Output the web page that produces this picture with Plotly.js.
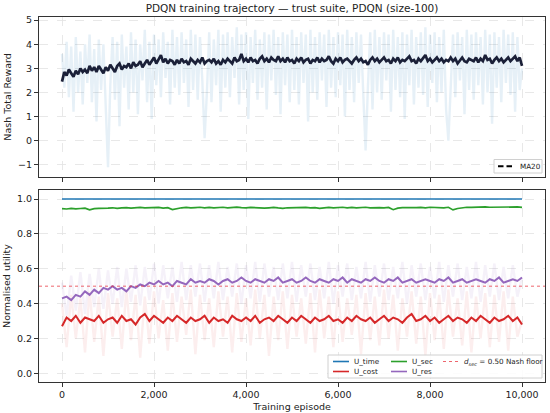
<!DOCTYPE html>
<html>
<head>
<meta charset="utf-8">
<script src="https://cdn.plot.ly/plotly-3.0.1.min.js"></script>
<style>html,body{margin:0;padding:0;background:#fff;}#chart{width:550px;height:413px;}</style>
</head>
<body>
<div id="chart"></div>
<script>
// ---------- data ----------
const STEP_FINE = 50;     // episodes between samples of fine series
const STEP_COARSE = 100;  // episodes between samples of coarse series
const LAST_EPISODE = 10000;
const nashFloor = 0.50;
const xTickVals = [0, 2000, 4000, 6000, 8000, 10000];
const rewardTickVals = [-1, 0, 1, 2, 3, 4, 5];
const utilTickVals = [0, 0.2, 0.4, 0.6, 0.8, 1.0];
const legendTop = ['MA20'];
const legendBottom = ['U_time', 'U_cost', 'U_sec', 'U_res', '<i>d</i><sub><i>sec</i></sub> = 0.50 Nash floor'];

const rewardRaw = [
3.6,2.2,4.1,1.8,3.9,1.2,4.3,2.0,3.7,1.5,
4.0,2.4,4.4,1.6,3.8,0.8,4.2,2.1,4.0,1.4,
-1.1,2.3,4.3,1.7,4.1,0.6,4.4,2.2,3.9,1.3,
4.5,2.0,4.2,1.1,4.0,2.5,4.6,1.6,4.1,0.9,
4.4,2.3,4.2,1.8,4.5,2.6,4.1,1.5,4.6,2.2,
4.3,1.9,4.5,2.4,4.2,1.4,4.6,2.1,4.4,1.7,
4.3,2.5,0.1,2.0,4.5,1.6,4.2,2.3,4.6,1.2,
4.4,2.2,4.5,1.8,4.3,2.6,4.7,1.5,4.4,2.1,
4.5,0.9,4.3,2.4,4.6,1.7,4.2,2.2,4.5,1.3,
4.4,2.5,4.6,1.9,4.3,1.1,4.5,2.3,4.4,1.6,
4.6,2.1,4.3,1.5,4.5,2.4,4.4,0.8,4.6,2.0,
4.3,1.7,4.5,2.5,4.4,1.4,4.6,2.2,4.3,1.8,
4.5,2.3,4.4,1.0,4.6,2.1,4.3,1.6,4.5,2.4,
4.4,1.9,-0.4,2.2,4.5,1.3,4.6,2.0,4.3,1.7,
4.5,2.5,4.4,1.2,4.6,2.1,4.3,1.8,4.5,0.9,
4.4,2.3,4.6,1.5,4.3,2.2,4.5,1.9,4.7,1.4,
4.4,2.4,4.5,1.6,4.3,2.0,4.6,1.3,0.0,2.2,
4.4,1.8,4.5,2.5,4.3,1.1,4.6,2.1,4.4,1.7,
4.5,2.3,4.3,1.5,4.6,2.0,4.4,0.7,4.5,2.2,
4.3,1.6,4.6,2.4,4.4,1.9,4.5,1.2,4.3,2.1,3.0];

const rewardMA20 = [
2.45,2.85,2.7,2.95,2.8,2.65,2.9,2.75,3.0,2.85,
2.95,2.8,3.1,2.9,3.05,2.85,3.1,2.95,2.8,3.05,
2.9,3.15,3.0,2.85,3.1,3.2,2.95,3.1,3.05,3.2,
3.0,3.25,3.1,3.15,3.3,3.05,3.2,3.35,3.15,3.3,
3.45,3.2,3.35,3.55,3.25,3.4,3.2,3.35,3.3,3.15,
3.35,3.2,3.4,3.25,3.3,3.15,3.4,3.3,3.2,3.35,
3.25,3.45,3.2,3.3,3.35,3.25,3.4,3.2,3.3,3.15,
3.35,3.25,3.4,3.3,3.2,3.45,3.3,3.35,3.6,3.3,
3.4,3.25,3.45,3.3,3.35,3.2,3.4,3.5,3.3,3.4,
3.25,3.45,3.35,3.3,3.5,3.3,3.4,3.25,3.45,3.3,
3.35,3.2,3.4,3.3,3.45,3.25,3.35,3.4,3.2,3.35,
3.3,3.45,3.25,3.4,3.3,3.35,3.5,3.3,3.2,3.4,
3.3,3.45,3.25,3.35,3.4,3.3,3.2,3.35,3.45,3.3,
3.4,3.25,3.3,3.15,3.35,3.45,3.3,3.4,3.25,3.35,
3.45,3.3,3.35,3.2,3.4,3.3,3.45,3.25,3.35,3.3,
3.4,3.5,3.3,3.35,3.2,3.4,3.3,3.45,3.55,3.3,
3.4,3.25,3.35,3.45,3.3,3.4,3.25,3.35,3.3,3.45,
3.3,3.4,3.2,3.35,3.45,3.3,3.25,3.4,3.35,3.3,
3.45,3.25,3.4,3.3,3.55,3.35,3.4,3.2,3.35,3.45,
3.3,3.4,3.25,3.35,3.45,3.3,3.4,3.5,3.3,3.45,3.1];

const uTimeMA = [1.0, 1.0];

const uSecMA = [
0.945,0.943,0.947,0.944,0.946,0.948,0.938,0.945,0.947,0.946,
0.948,0.950,0.947,0.949,0.951,0.948,0.950,0.952,0.949,0.951,
0.950,0.952,0.948,0.951,0.940,0.947,0.950,0.952,0.949,0.951,
0.953,0.950,0.952,0.949,0.951,0.953,0.950,0.952,0.954,0.951,
0.949,0.952,0.950,0.951,0.948,0.950,0.952,0.949,0.947,0.950,
0.951,0.948,0.950,0.952,0.949,0.951,0.947,0.950,0.952,0.949,
0.951,0.953,0.950,0.952,0.949,0.951,0.953,0.950,0.952,0.951,
0.950,0.952,0.939,0.948,0.951,0.950,0.953,0.951,0.952,0.950,
0.953,0.951,0.952,0.950,0.953,0.938,0.946,0.951,0.953,0.952,
0.954,0.952,0.955,0.953,0.954,0.952,0.955,0.953,0.954,0.955,0.952];

const uCostMA = [
0.27,0.32,0.30,0.33,0.29,0.32,0.31,0.30,0.33,0.29,
0.31,0.32,0.29,0.33,0.30,0.31,0.28,0.32,0.34,0.30,
0.33,0.31,0.29,0.32,0.30,0.33,0.31,0.29,0.32,0.30,
0.31,0.33,0.29,0.32,0.30,0.31,0.29,0.33,0.31,0.30,
0.32,0.30,0.33,0.29,0.31,0.32,0.30,0.33,0.31,0.29,
0.32,0.30,0.33,0.31,0.29,0.32,0.30,0.31,0.33,0.30,
0.31,0.29,0.32,0.30,0.33,0.31,0.30,0.32,0.29,0.31,
0.33,0.30,0.32,0.31,0.29,0.32,0.34,0.30,0.31,0.33,
0.30,0.32,0.29,0.31,0.33,0.30,0.32,0.31,0.29,0.32,
0.30,0.33,0.31,0.29,0.32,0.30,0.31,0.33,0.30,0.32,0.28];

const uResMA = [
0.43,0.44,0.42,0.45,0.44,0.47,0.45,0.48,0.46,0.49,
0.48,0.50,0.48,0.49,0.47,0.50,0.49,0.51,0.50,0.52,
0.51,0.53,0.51,0.52,0.50,0.53,0.52,0.51,0.54,0.52,
0.53,0.52,0.54,0.53,0.51,0.53,0.54,0.52,0.53,0.55,
0.53,0.52,0.54,0.53,0.52,0.54,0.53,0.55,0.52,0.53,
0.54,0.52,0.53,0.55,0.53,0.52,0.54,0.53,0.52,0.54,
0.53,0.55,0.52,0.54,0.53,0.52,0.54,0.53,0.55,0.53,
0.52,0.54,0.53,0.55,0.52,0.53,0.54,0.52,0.53,0.54,
0.53,0.52,0.54,0.53,0.55,0.52,0.53,0.54,0.52,0.53,
0.54,0.53,0.52,0.54,0.53,0.55,0.52,0.53,0.54,0.53,0.55];

const uCostRaw = [
0.40,0.15,0.45,0.20,0.43,0.12,0.47,0.18,0.44,0.10,
0.46,0.21,0.43,0.14,0.48,0.19,0.45,0.09,0.44,0.17,
0.47,0.20,0.42,0.13,0.46,0.18,0.44,0.22,0.48,0.11,
0.45,0.19,0.43,0.15,0.47,0.21,0.44,0.12,0.46,0.18,
0.43,0.16,0.48,0.20,0.45,0.10,0.44,0.19,0.47,0.14,
0.45,0.21,0.43,0.17,0.46,0.12,0.48,0.20,0.44,0.15,
0.47,0.18,0.43,0.22,0.45,0.11,0.46,0.19,0.44,0.16,
0.48,0.20,0.45,0.13,0.43,0.21,0.47,0.17,0.44,0.10,
0.46,0.19,0.45,0.14,0.48,0.21,0.43,0.16,0.47,0.12,
0.44,0.20,0.46,0.15,0.45,0.18,0.47,0.13,0.44,0.21,0.30];

const uResRaw = [
0.52,0.33,0.56,0.36,0.58,0.34,0.57,0.38,0.60,0.37,
0.59,0.40,0.61,0.38,0.60,0.41,0.62,0.39,0.61,0.42,
0.63,0.40,0.62,0.43,0.61,0.41,0.64,0.42,0.62,0.44,
0.63,0.41,0.62,0.43,0.64,0.42,0.61,0.44,0.63,0.40,
0.62,0.43,0.64,0.41,0.63,0.44,0.61,0.42,0.63,0.43,
0.64,0.41,0.62,0.44,0.63,0.42,0.61,0.43,0.64,0.40,
0.62,0.44,0.63,0.42,0.61,0.43,0.64,0.41,0.62,0.44,
0.63,0.42,0.61,0.43,0.64,0.40,0.62,0.44,0.63,0.42,
0.61,0.43,0.64,0.41,0.62,0.44,0.63,0.42,0.61,0.43,
0.64,0.41,0.62,0.44,0.63,0.42,0.61,0.43,0.62,0.44,0.55];

// ---------- episode axes ----------
function episodes(n, step){ const a=[]; for(let i=0;i<n;i++) a.push(i*step); return a; }
const epFine = episodes(rewardRaw.length, STEP_FINE);
const epCoarse = episodes(uSecMA.length, STEP_COARSE);
const epEnds = [0, LAST_EPISODE];

// ---------- styling ----------
const C_BLUE='#1f77b4', C_RED='#d62728', C_GREEN='#2ca02c', C_PURPLE='#9467bd', C_NAVY='#1b2038';
const C_FLOOR='rgba(232,50,60,0.75)';
const FONT='DejaVu Sans, sans-serif';
const LEG_FONT=7.2;
const W=550, H=413, ML=39, MR=5, MT=17, MB=31;
const PW=W-ML-MR, PH=H-MT-MB;
const px=(v)=>(v-ML)/PW, py=(v)=>(H-MB-v)/PH;

const traces = [
  {x: epFine, y: rewardRaw, xaxis:'x', yaxis:'y', mode:'lines', hoverinfo:'skip',
   line:{color:'rgba(31,119,180,0.11)', width:2.4}},
  {x: epFine, y: rewardMA20, xaxis:'x', yaxis:'y', mode:'lines', name:legendTop[0],
   line:{color:C_NAVY, width:2.7}},
  {x: epCoarse, y: uCostRaw, xaxis:'x2', yaxis:'y2', mode:'lines', hoverinfo:'skip',
   line:{color:'rgba(214,39,40,0.08)', width:2.4}},
  {x: epCoarse, y: uResRaw, xaxis:'x2', yaxis:'y2', mode:'lines', hoverinfo:'skip',
   line:{color:'rgba(148,103,189,0.09)', width:2.4}},
  {x: epEnds, y: uTimeMA, xaxis:'x2', yaxis:'y2', mode:'lines', name:legendBottom[0],
   line:{color:C_BLUE, width:1.6}},
  {x: epCoarse, y: uSecMA, xaxis:'x2', yaxis:'y2', mode:'lines', name:legendBottom[2],
   line:{color:C_GREEN, width:1.7}},
  {x: epCoarse, y: uCostMA, xaxis:'x2', yaxis:'y2', mode:'lines', name:legendBottom[1],
   line:{color:C_RED, width:2}},
  {x: epCoarse, y: uResMA, xaxis:'x2', yaxis:'y2', mode:'lines', name:legendBottom[3],
   line:{color:C_PURPLE, width:2}}
];

const axisCommon = {
  showline:true, mirror:true, linecolor:'#333', linewidth:1,
  ticks:'outside', ticklen:4, tickcolor:'#333', tickwidth:1,
  showgrid:true, gridcolor:'#e2e2e2', griddash:'dash', gridwidth:0.8,
  zeroline:false, tickfont:{family:FONT, size:9.5, color:'#222'}, automargin:false
};
const xRange = [-500, 10500];

// ---------- hand-placed legends (matplotlib style) ----------
const shapes = [
  {type:'line', xref:'x2 domain', yref:'y2', x0:0, x1:1, y0:nashFloor, y1:nashFloor,
   line:{color:C_FLOOR, width:1, dash:'dot'}, layer:'above'},
  {type:'rect', xref:'paper', yref:'paper', x0:px(494), x1:px(542), y0:py(173), y1:py(159.5),
   fillcolor:'rgba(255,255,255,0.85)', line:{color:'#d0d0d0', width:1}, layer:'above'},
  {type:'line', xref:'paper', yref:'paper', x0:px(498), x1:px(513), y0:py(166.3), y1:py(166.3),
   line:{color:'#000', width:2, dash:'5.5px,3px'}, layer:'above'},
  {type:'rect', xref:'paper', yref:'paper', x0:px(328), x1:px(542), y0:py(378), y1:py(355),
   fillcolor:'rgba(255,255,255,0.85)', line:{color:'#d0d0d0', width:1}, layer:'above'}
];
const annotations = [
  {xref:'paper', yref:'paper', x:px(518), y:py(166.3), xanchor:'left', yanchor:'middle', showarrow:false,
   text:legendTop[0], font:{family:FONT, size:LEG_FONT, color:'#222'}}
];
const bottomEntries = [
  {label:legendBottom[0], color:C_BLUE,  dash:'solid', x:333, y:361.5, w:16, width:1.6},
  {label:legendBottom[1], color:C_RED,   dash:'solid', x:333, y:371.5, w:16, width:1.6},
  {label:legendBottom[2], color:C_GREEN, dash:'solid', x:391, y:361.5, w:16, width:1.6},
  {label:legendBottom[3], color:C_PURPLE,dash:'solid', x:391, y:371.5, w:16, width:1.6},
  {label:legendBottom[4], color:C_FLOOR, dash:'dot',   x:443, y:361.5, w:16, width:1}
];
bottomEntries.forEach(e=>{
  shapes.push({type:'line', xref:'paper', yref:'paper', x0:px(e.x), x1:px(e.x+e.w), y0:py(e.y), y1:py(e.y),
    line:{color:e.color, width:e.width, dash:e.dash}, layer:'above'});
  annotations.push({xref:'paper', yref:'paper', x:px(e.x+e.w+3), y:py(e.y), xanchor:'left', yanchor:'middle',
    showarrow:false, text:e.label, font:{family:FONT, size:LEG_FONT, color:'#222'}});
});

const layout = {
  width:W, height:H, paper_bgcolor:'#fff', plot_bgcolor:'#fff',
  margin:{l:ML, r:MR, t:MT, b:MB},
  showlegend:false,
  font:{family:FONT, color:'#222'},
  title:{text:'PDQN training trajectory — trust suite, PDQN (size-100)', font:{family:FONT, size:10.5, color:'#222'},
         x:0.5, xref:'paper', xanchor:'center', y:0.981, yref:'container', yanchor:'middle'},
  xaxis: Object.assign({}, axisCommon, {domain:[0,1], anchor:'y', range:xRange, tickvals:xTickVals, showticklabels:false}),
  yaxis: Object.assign({}, axisCommon, {domain:[0.562,1], anchor:'x', range:[-1.5,5.13], tickvals:rewardTickVals,
         title:{text:'Nash Total Reward', font:{family:FONT, size:9.5, color:'#222'}, standoff:4}}),
  xaxis2: Object.assign({}, axisCommon, {domain:[0,1], anchor:'y2', range:xRange, tickvals:xTickVals, tickformat:',d',
         title:{text:'Training episode', font:{family:FONT, size:9.5, color:'#222'}, standoff:3}}),
  yaxis2: Object.assign({}, axisCommon, {domain:[0,0.526], anchor:'x2', range:[-0.05,1.052], tickvals:utilTickVals, tickformat:'.1f',
         title:{text:'Normalised utility', font:{family:FONT, size:9.5, color:'#222'}, standoff:4}}),
  shapes: shapes,
  annotations: annotations
};

Plotly.newPlot('chart', traces, layout, {staticPlot:true, displayModeBar:false});
</script>
</body>
</html>
